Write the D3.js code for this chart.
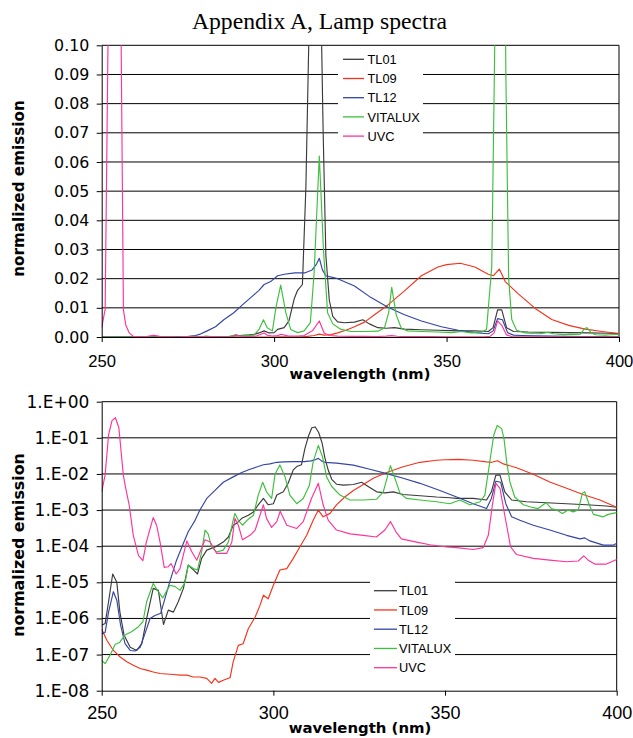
<!DOCTYPE html>
<html>
<head>
<meta charset="utf-8">
<script src="https://cdn.jsdelivr.net/npm/d3@7"></script>
<style>
body { margin: 0; background: #fff; }
</style>
</head>
<body>
<script>
// [wavelength nm, normalized emission]
const TL01 = [[250,6.5e-7],[251,7.2e-7],[252,2.9e-6],[253.2,1.7e-5],[254.4,1.0e-5],[255.3,1.5e-6],[256.5,3.5e-7],[258.3,1.6e-7],[260.2,1.3e-7],[261.7,2.0e-7],
  [263.1,1.0e-6],[265,6.8e-6],[266.5,6.0e-6],[268,6.8e-7],[269.4,1.7e-6],[270.9,1.5e-6],[272.3,2.9e-6],[273.8,6.8e-6],[275.2,3.0e-5],[276.7,2.2e-5],
  [277.9,1.7e-5],[279.1,4.6e-5],[280.6,7.8e-5],[283,9.5e-5],[285.4,1.3e-4],[286.9,1.8e-4],[288.3,3.8e-4],[289.3,4.3e-4],[290.8,5.9e-4],[292.7,7.2e-4],
  [294.2,8.9e-4],[295.6,1.4e-3],[297.1,2.1e-3],[298.5,1.4e-3],[300,1.5e-3],[301,2.6e-3],[302.9,3.2e-3],[304.3,5.5e-3],[305.8,0.013],[306.8,0.016],
  [308.2,0.018],[309.2,0.051],[310.2,0.11],[311.2,0.19],[312.2,0.20],[313.2,0.14],[314.2,0.071],[315,0.028],[316,0.0126],[317,0.0071],
  [318.4,0.0052],[320.4,0.0049],[323.3,0.0051],[325.7,0.0059],[327.6,0.0045],[330.1,0.0032],[332.5,0.0030],[334.9,0.0032],[337.8,0.0027],[342.7,0.0025],
  [347.5,0.0023],[351.4,0.0022],[353.4,0.0021],[358.2,0.0021],[362.1,0.0019],[363.5,0.0032],[364.8,0.0093],[366,0.0093],[367.4,0.0032],[369.4,0.0019],
  [373.7,0.0017],[379.6,0.0016],[385.4,0.0015],[391.2,0.0014],[397,0.0013],[400,0.0012]]

const TL09 = [[250,5.0e-7],[251.5,2.5e-7],[253.4,1.3e-7],[255.3,8.7e-8],[257.3,6.3e-8],[259.2,5.1e-8],[261.2,4.1e-8],[263.1,3.7e-8],[265,3.3e-8],[267,3.0e-8],
  [268.9,2.9e-8],[270.9,2.8e-8],[272.8,2.7e-8],[274.8,2.7e-8],[276.7,2.4e-8],[278.6,2.4e-8],[280.6,2.2e-8],[282,1.6e-8],[283,2.2e-8],[284,1.7e-8],
  [285.4,1.95e-8],[286.9,2.2e-8],[287.4,2.3e-8],[288.3,6.3e-8],[289.8,1.8e-7],[291.2,2.0e-7],[292.7,5.2e-7],[294.7,1.1e-6],[296.1,2.3e-6],[297.1,4.4e-6],
  [298.5,3.5e-6],[300,8.3e-6],[301.9,2.2e-5],[303.9,2.4e-5],[305.8,4.6e-5],[307.7,9.5e-5],[309.7,2.0e-4],[311.6,5.2e-4],[313.1,1.0e-3],[314.5,6.5e-4],
  [316.5,8.1e-4],[318.4,1.4e-3],[320.8,2.3e-3],[323.3,3.5e-3],[326.2,5.1e-3],[329.1,7.6e-3],[333,0.011],[337.8,0.0158],[342.7,0.021],[347.5,0.024],
  [350,0.0248],[354,0.0253],[358.2,0.024],[362.1,0.0215],[363.6,0.021],[365.3,0.0233],[367,0.019],[370.8,0.0148],[375.7,0.0098],[380.5,0.006],
  [385.4,0.004],[390.2,0.0027],[395.1,0.0019],[400,0.0012]]

const TL12 = [[250,3.8e-7],[251,4.1e-7],[252,1.5e-6],[253.4,5.5e-6],[254.4,3.2e-6],[255.5,6.5e-7],[256.8,2.0e-7],[258.3,1.3e-7],[259.7,1.26e-7],[261.2,1.6e-7],
  [262.6,3.8e-7],[264.1,1.0e-6],[265.5,1.2e-6],[267.2,1.4e-6],[268.4,3.5e-6],[269.9,1.1e-5],[271.8,4.1e-5],[273.8,1.2e-4],[275.2,2.5e-4],[277.2,5.2e-4],
  [278.6,1.0e-3],[280.6,2.1e-3],[283,3.5e-3],[285.4,5.9e-3],[288.3,8.3e-3],[290.8,0.011],[293.2,0.0135],[295.6,0.016],[297.1,0.018],[299,0.019],
  [301,0.021],[303,0.0215],[306,0.022],[309,0.022],[311,0.023],[312.3,0.025],[313.1,0.027],[314,0.023],[315,0.021],[318.4,0.020],
  [323.3,0.0175],[328.1,0.0135],[333,0.0102],[337.8,0.0076],[342.7,0.0055],[348.5,0.0035],[353.4,0.0023],[358.2,0.0015],[362.1,0.0011],[363.5,0.0021],
  [364.8,0.0063],[366.2,0.0059],[367.7,0.0015],[369.4,6.5e-4],[371.8,5.2e-4],[375.7,3.8e-4],[380.5,2.8e-4],[385.4,2.0e-4],[389.3,1.6e-4],[390.7,1.7e-4],
  [392.2,1.4e-4],[396.1,1.07e-4],[399,1.07e-4],[400,1.2e-4]]

const VITALUX = [[250,6.9e-8],[251,5.6e-8],[252.4,9.5e-8],[253.9,1.9e-7],[255.3,2.2e-7],[256.8,3.5e-7],[258.7,4.3e-7],[260.7,5.9e-7],[262,8.1e-7],[263.1,2.9e-6],
  [265,9.3e-6],[266.5,5.5e-6],[267.8,3.7e-6],[269,6.0e-6],[269.9,8.3e-6],[271.4,7.6e-6],[272.8,6.0e-6],[274.3,1.0e-5],[275.2,3.0e-5],[276.7,2.4e-5],
  [277.9,2.2e-5],[279.1,6.9e-5],[280.1,2.8e-4],[281,2.2e-4],[282,9.5e-5],[283.5,6.9e-5],[285.4,7.8e-5],[286.9,1.3e-4],[288.2,4.8e-4],[288.8,8.1e-4],
  [289.8,5.2e-4],[291,3.8e-4],[292.7,5.6e-4],[294.2,7.2e-4],[295.6,2.6e-3],[296.9,5.9e-3],[298,3.2e-3],[299.5,2.1e-3],[300.5,0.010],[301.9,0.0178],
  [303.4,0.0083],[304.8,2.6e-3],[306.8,1.5e-3],[308.7,2.1e-3],[310.5,4.9e-3],[311.6,0.022],[313.1,0.062],[314.3,0.030],[315.5,8.3e-3],[317,4.5e-3],
  [319.4,2.6e-3],[322.3,1.9e-3],[326.2,1.9e-3],[330.1,2.0e-3],[332,3.2e-3],[333.2,8.3e-3],[334.1,0.017],[335.4,7.6e-3],[336.9,2.9e-3],[338.8,2.1e-3],
  [342.7,1.9e-3],[347.5,1.7e-3],[351.4,1.5e-3],[354.3,1.9e-3],[357.2,1.4e-3],[360.2,1.7e-3],[361.6,2.6e-3],[363.1,0.024],[364.2,0.12],[365.2,0.22],
  [366.5,0.18],[367.2,0.09],[368,0.02],[368.9,6.0e-3],[370.3,2.3e-3],[372.8,1.4e-3],[375.2,1.2e-3],[377.1,1.1e-3],[379.4,1.6e-3],[381,1.1e-3],
  [382.5,1.0e-3],[384.2,8.1e-4],[385.9,1.0e-3],[387.3,8.9e-4],[388.8,1.0e-3],[390,2.9e-3],[390.7,3.2e-3],[392,1.4e-3],[393.2,7.6e-4],[396.1,6.5e-4],
  [397.5,7.6e-4],[400,8.5e-4]]

const UVC = [[250,3.2e-3],[251,9.5e-3],[252,0.12],[253,0.30],[254,0.36],[255,0.19],[256.3,9.3e-3],[257,4.0e-3],[258,1.4e-3],[259.2,2.0e-4],
  [260.7,5.6e-5],[262,4.0e-5],[263,1.3e-4],[265,6.2e-4],[266,3.8e-4],[267,1.3e-4],[268.2,2.6e-5],[269.4,2.7e-5],[270.2,3.3e-5],[271.7,1.7e-5],
  [272.8,2.4e-5],[274.8,1.4e-4],[276.2,7.1e-5],[277.7,4.1e-5],[280.1,1.5e-4],[281.6,1.3e-4],[283.5,6.3e-5],[286.4,6.3e-5],[287.9,1.3e-4],[288.8,5.9e-4],
  [289.8,3.8e-4],[291,1.5e-4],[293.2,2.0e-4],[294.7,2.8e-4],[297.1,1.4e-3],[298,5.9e-4],[299.5,3.3e-4],[301,4.8e-4],[302,9.3e-4],[303.9,3.8e-4],
  [306.8,3.1e-4],[308.7,4.8e-4],[311.1,2.1e-3],[313.1,5.5e-3],[314.5,1.4e-3],[316,5.2e-4],[318.4,2.8e-4],[322.3,2.2e-4],[326.2,2.0e-4],[330,1.8e-4],
  [332.5,2.8e-4],[334.1,4.8e-4],[335.7,2.5e-4],[337.3,1.6e-4],[341.7,1.3e-4],[345.6,1.1e-4],[350.5,9.5e-5],[353.4,9.1e-5],[358.2,8.1e-5],[361.1,9.1e-5],
  [362.6,2.0e-4],[363.8,1.4e-3],[364.8,5.5e-3],[366,4.0e-3],[367.4,7.2e-4],[369.1,9.5e-5],[370.8,5.9e-5],[375.7,4.6e-5],[380.5,4.1e-5],[385.4,3.7e-5],
  [388.8,3.9e-5],[390.4,5.4e-5],[391.7,4.1e-5],[393.6,3.2e-5],[397,3.2e-5],[400,4.3e-5]]

const seriesNames = ['TL01', 'TL09', 'TL12', 'VITALUX', 'UVC']
const seriesData = [TL01, TL09, TL12, VITALUX, UVC]
const seriesColors = ['#3a3a3a', '#f5331c', '#3344a6', '#3cc03c', '#ff3399']

const xTicks = [250, 300, 350, 400]
const linTicks = [0, 0.01, 0.02, 0.03, 0.04, 0.05, 0.06, 0.07, 0.08, 0.09, 0.10]
const logTicks = [1e-8, 1e-7, 1e-6, 1e-5, 1e-4, 1e-3, 1e-2, 1e-1, 1]

const width = 633
const height = 738
const sans = '"Liberation Sans", Arial, sans-serif'
const deja = '"DejaVu Sans", sans-serif'

const svg = d3.select('body').append('svg')
  .attr('width', width)
  .attr('height', height)

svg.append('text')
  .attr('x', 319.5)
  .attr('y', 29.3)
  .attr('text-anchor', 'middle')
  .style('font-family', '"Liberation Serif", "Times New Roman", serif')
  .style('font-size', '23.7px')
  .text('Appendix A, Lamp spectra')

const logFmt = d => {
  const e = Math.round(Math.log10(d))
  return '1.E' + (e < 0 ? '-' : '+') + String(Math.abs(e)).padStart(2, '0')
}

function panel(p) {
  const x = d3.scaleLinear().domain([250, 400]).range([p.left, p.right])
  const y = p.y.range([p.bottom, p.top])

  const clipId = 'clip' + p.id
  svg.append('clipPath').attr('id', clipId)
    .append('rect')
    .attr('x', p.left).attr('y', p.top)
    .attr('width', p.right - p.left).attr('height', p.bottom - p.top)

  // grid lines
  svg.append('g').selectAll('line')
    .data(p.ticks.slice(1))
    .enter().append('line')
    .attr('x1', p.left).attr('x2', p.right)
    .attr('y1', d => y(d)).attr('y2', d => y(d))
    .attr('stroke', '#000')
    .attr('stroke-width', 1)

  // right border
  svg.append('line')
    .attr('x1', p.right).attr('x2', p.right)
    .attr('y1', p.top).attr('y2', p.bottom)
    .attr('stroke', '#000')

  // spectra
  const line = d3.line().x(d => x(d[0])).y(d => y(d[1]))
  svg.append('g').attr('clip-path', 'url(#' + clipId + ')')
    .selectAll('path')
    .data(seriesData)
    .enter().append('path')
    .attr('d', line)
    .attr('fill', 'none')
    .attr('stroke', (d, i) => seriesColors[i])
    .attr('stroke-width', 1.15)
    .attr('stroke-linejoin', 'round')

  // axes
  const yAxis = d3.axisLeft(y).tickValues(p.ticks).tickFormat(p.fmt)
    .tickSize(5).tickSizeOuter(0).tickPadding(7.4)
  const yg = svg.append('g').attr('transform', 'translate(' + p.left + ',0)').call(yAxis)
  yg.selectAll('text').style('font-family', deja).style('font-size', p.yFont + 'px').attr('fill', '#000')
  yg.selectAll('line,path').attr('stroke', '#000')

  const xAxis = d3.axisBottom(x).tickValues(xTicks).tickFormat(d3.format('d'))
    .tickSize(5).tickSizeOuter(0).tickPadding(p.xPad)
  const xg = svg.append('g').attr('transform', 'translate(0,' + p.bottom + ')').call(xAxis)
  xg.selectAll('text').style('font-family', sans).style('font-size', p.xFont + 'px').attr('fill', '#000')
  xg.selectAll('line,path').attr('stroke', '#000')

  // axis titles
  svg.append('text')
    .attr('transform', 'translate(24,' + p.yLabelY + ') rotate(-90)')
    .attr('text-anchor', 'middle')
    .style('font-family', deja).style('font-weight', 'bold')
    .style('font-size', p.yLabelFont + 'px')
    .text('normalized emission')

  svg.append('text')
    .attr('x', 360).attr('y', p.xLabelY)
    .attr('text-anchor', 'middle')
    .style('font-family', deja).style('font-weight', 'bold')
    .style('font-size', p.xLabelFont + 'px')
    .text('wavelength (nm)')

  // legend
  const lg = svg.append('g')
  lg.append('rect')
    .attr('x', p.leg.x).attr('y', p.leg.y)
    .attr('width', p.leg.w).attr('height', p.leg.h)
    .attr('fill', '#fff')
  const rows = lg.selectAll('g.row')
    .data(seriesNames)
    .enter().append('g')
    .attr('class', 'row')
    .attr('transform', (d, i) => 'translate(0,' + (p.leg.row0 + i * p.leg.step) + ')')
  rows.append('line')
    .attr('x1', p.leg.lx1).attr('x2', p.leg.lx2)
    .attr('y1', 0).attr('y2', 0)
    .attr('stroke', (d, i) => seriesColors[i])
    .attr('stroke-width', 1.3)
  rows.append('text')
    .attr('x', p.leg.tx).attr('y', 4.6)
    .style('font-family', sans).style('font-size', '12.8px')
    .text(d => d)
}

panel({
  id: 'lin', left: 101.7, right: 619, top: 45.3, bottom: 337,
  y: d3.scaleLinear().domain([0, 0.1]), ticks: linTicks, fmt: d3.format('.2f'),
  yFont: 15.8, xFont: 16.6, xPad: 13,
  yLabelY: 188.5, yLabelFont: 15.2, xLabelY: 379.3, xLabelFont: 14.7,
  leg: { x: 338, y: 48, w: 85, h: 97, row0: 59.3, step: 19.2, lx1: 343, lx2: 364, tx: 367.5 }
})

panel({
  id: 'log', left: 101.7, right: 616.7, top: 401.7, bottom: 690.7,
  y: d3.scaleLog().domain([1e-8, 1]), ticks: logTicks, fmt: logFmt,
  yFont: 17, xFont: 18, xPad: 10.8,
  yLabelY: 545, yLabelFont: 15.8, xLabelY: 732.7, xLabelFont: 14.9,
  leg: { x: 370, y: 579, w: 85, h: 99, row0: 590.7, step: 19.25, lx1: 374, lx2: 397, tx: 399 }
})
</script>
</body>
</html>
